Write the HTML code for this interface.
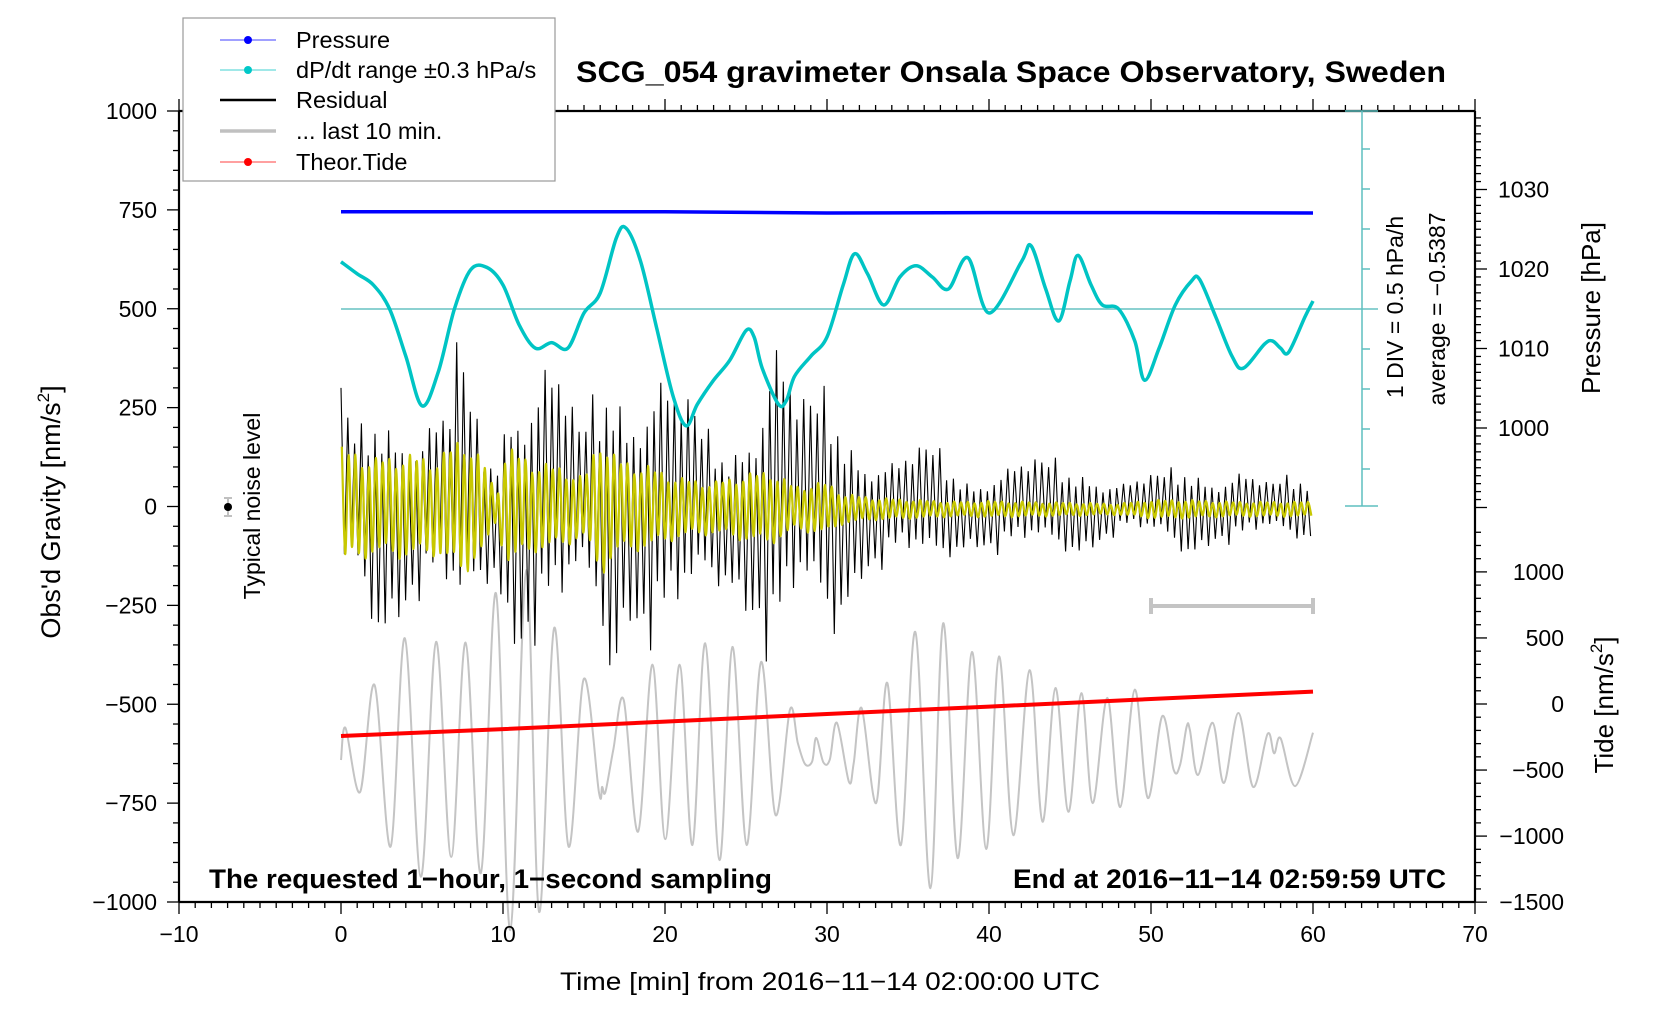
<!DOCTYPE html>
<html><head><meta charset="utf-8"><style>
html,body{margin:0;padding:0;background:#fff;}
svg{display:block;font-family:"Liberation Sans",sans-serif;}
</style></head><body>
<svg id="chart" width="1676" height="1020" viewBox="0 0 1676 1020" xmlns="http://www.w3.org/2000/svg">
<rect x="0" y="0" width="1676" height="1020" fill="#fff"/>
<g id="marks"></g>
<g id="axes"></g>
<text x="576" y="82" font-size="30" font-weight="bold" textLength="870" lengthAdjust="spacingAndGlyphs">SCG_054 gravimeter Onsala Space Observatory, Sweden</text>
<text x="209" y="888" font-size="27" font-weight="bold" textLength="563" lengthAdjust="spacingAndGlyphs">The requested 1−hour, 1−second sampling</text>
<text x="1013" y="888" font-size="27" font-weight="bold" textLength="433" lengthAdjust="spacingAndGlyphs">End at 2016−11−14 02:59:59 UTC</text>
<text x="830" y="990" font-size="25" text-anchor="middle" textLength="540" lengthAdjust="spacingAndGlyphs">Time [min] from 2016−11−14 02:00:00 UTC</text>
<text transform="translate(60,512) rotate(-90)" font-size="27" text-anchor="middle">Obs'd Gravity [nm/s<tspan font-size="17" dy="-11">2</tspan><tspan dy="11">]</tspan></text>
<text transform="translate(1600,308) rotate(-90)" font-size="26" text-anchor="middle">Pressure [hPa]</text>
<text transform="translate(1613,705) rotate(-90)" font-size="26" text-anchor="middle">Tide [nm/s<tspan font-size="17" dy="-11">2</tspan><tspan dy="11">]</tspan></text>
<text transform="translate(1403,307) rotate(-90)" font-size="23" text-anchor="middle">1 DIV = 0.5 hPa/h</text>
<text transform="translate(1445,309) rotate(-90)" font-size="23" text-anchor="middle">average = −0.5387</text>
<text transform="translate(260,506) rotate(-90)" font-size="23" text-anchor="middle">Typical noise level</text>
<g>
<line x1="228" y1="498" x2="228" y2="516" stroke="#c0c0c0" stroke-width="2"/>
<line x1="224" y1="498" x2="232" y2="498" stroke="#c0c0c0" stroke-width="2"/>
<line x1="224" y1="516" x2="232" y2="516" stroke="#c0c0c0" stroke-width="2"/>
<circle cx="228" cy="507" r="4" fill="#000"/>
</g>
<g>
<rect x="183" y="18" width="372" height="163" fill="#fff" stroke="#999" stroke-width="1.2"/>
<g><line x1="220" y1="40" x2="276" y2="40" stroke="#4040ff" stroke-width="1"/><circle cx="248" cy="40" r="4" fill="#0000ff"/><text x="296" y="48" font-size="23.5">Pressure</text></g>
<g><line x1="220" y1="70" x2="276" y2="70" stroke="#40d0d0" stroke-width="1"/><circle cx="248" cy="70" r="4" fill="#00c8c8"/><text x="296" y="78" font-size="23.5">dP/dt range ±0.3 hPa/s</text></g>
<g><line x1="220" y1="100" x2="276" y2="100" stroke="#000" stroke-width="2.5"/><text x="296" y="108" font-size="23.5">Residual</text></g>
<g><line x1="220" y1="131" x2="276" y2="131" stroke="#c0c0c0" stroke-width="3.5"/><text x="296" y="139" font-size="23.5">... last 10 min.</text></g>
<g><line x1="220" y1="162" x2="276" y2="162" stroke="#ff4040" stroke-width="1"/><circle cx="248" cy="162" r="4" fill="#ff0000"/><text x="296" y="170" font-size="23.5">Theor.Tide</text></g>
</g>
</svg>
<script>
// ---------- data ----------
const pressT = [0, 10, 20, 30, 40, 50, 60];
const pressV = [1027.2, 1027.2, 1027.2, 1027.05, 1027.1, 1027.1, 1027.05];
const dpdtT = [0,1,2,3,4,5,6,7,8,9,10,11,12,13,14,15,16,17,17.6,18.5,19.5,20.5,21.3,22,23,24,25,25.5,26,27,27.5,28,29,30,31,31.7,32.5,33.5,34.5,35.5,36.5,37.5,38.7,40,42,42.6,43.5,44.3,45,45.5,46.3,47,48,49,49.6,50.5,51.5,52.5,53,54,55,55.7,57,57.5,58,58.5,59.5,60];
const dpdtV = [0.59,0.44,0.30,0,-0.59,-1.21,-0.79,0,0.49,0.52,0.30,-0.20,-0.49,-0.42,-0.49,-0.05,0.20,0.89,1.01,0.59,-0.25,-1.09,-1.46,-1.19,-0.89,-0.64,-0.27,-0.35,-0.74,-1.19,-1.14,-0.84,-0.59,-0.35,0.30,0.69,0.44,0.05,0.40,0.54,0.40,0.25,0.64,-0.05,0.59,0.79,0.25,-0.15,0.35,0.67,0.30,0.05,0,-0.40,-0.89,-0.49,0.05,0.35,0.37,-0.10,-0.59,-0.74,-0.44,-0.40,-0.49,-0.54,-0.10,0.10];
const resT  = [0,1,2.3,3.3,4.6,5.7,6.8,7.2,8.6,9.5,10.4,11.2,12.7,13.4,14.8,16.2,16.6,17.7,19.3,20.3,21.8,22.4,24,25.8,26.6,28.3,30.4,31.2,32.3,34.3,36.4,38,39.1,40.8,43.4,45.6,47,48.4,50,51.3,52.3,54,55.5,57.3,59.3,60];
const resUp = [300,180,330,277,190,214,254,444,185,150,353,345,365,340,200,358,489,312,345,310,258,200,180,282,446,265,320,245,150,110,168,110,75,97,125,120,80,59,80,100,130,80,88,59,98,90];
const resLo = [-224,-200,-345,-290,-240,-236,-300,-375,-230,-180,-330,-375,-330,-360,-220,-320,-476,-280,-375,-390,-300,-228,-200,-316,-451,-280,-345,-255,-170,-152,-178,-120,-100,-127,-118,-121,-90,-67,-90,-110,-127,-90,-103,-80,-86,-80];
const resShape = [1,0.55,0.9,0.45,0.8,0.6,1,0.7,0.5,0.95,0.6,0.85,0.42,0.92,0.65,0.78,0.5];
const yelT = [0,2,4,6,7.5,9,9.6,10.2,12,13.5,15,16,17,19,21,23,25,26.5,28,30,31,33,38,40,45,48,50,52,55,60];
const yelA = [160,130,140,130,190,110,30,160,120,110,80,190,130,110,80,70,90,100,60,70,40,30,20,22,18,15,25,25,20,20];
const yelShape = [1,0.8,0.9,0.7,0.95,0.85,0.75,1,0.8,0.9];
const greyT = [0,0.28,1.18,2.07,3.06,3.94,4.93,5.87,6.8,7.69,8.63,9.56,10.45,11.44,12.23,13.16,14.05,14.99,15.92,16.12,16.32,16.81,17.45,18.34,19.23,20.02,20.9,21.69,22.48,23.37,24.16,25.04,25.93,26.82,27.71,28.2,28.64,29.08,29.33,29.78,30.17,30.61,31.35,31.65,32.14,33.03,33.72,34.56,35.45,36.38,37.17,38.06,38.95,39.83,40.62,41.5,42.5,43.3,44.1,44.9,45.7,46.4,47.3,48.1,49,49.8,50.7,51.4,51.8,52.2,52.4,52.9,53.8,54.5,55.4,56.3,57.2,57.6,58,58.9,60];
const greyV = [-641,-560,-722,-451,-860,-333,-936,-342,-886,-344,-927,-219,-1071,-161,-1025,-307,-860,-436,-722,-709,-722,-615,-489,-822,-400,-841,-400,-856,-346,-894,-355,-856,-393,-780,-514,-598,-651,-645,-585,-647,-640,-547,-696,-649,-510,-750,-446,-856,-317,-965,-295,-889,-368,-866,-379,-831,-414,-797,-459,-772,-472,-750,-484,-760,-463,-737,-530,-666,-652,-557,-565,-679,-547,-699,-522,-709,-575,-624,-586,-707,-572];
const tideT = [0, 10, 20, 30, 40, 50, 60];
const tideV = [-242, -190, -133, -76, -20, 38, 94];
const xTicks = [-10, 0, 10, 20, 30, 40, 50, 60, 70];
const xTickLabels = ["−10","0","10","20","30","40","50","60","70"];
const gTicks = [1000, 750, 500, 250, 0, -250, -500, -750, -1000];
const gTickLabels = ["1000","750","500","250","0","−250","−500","−750","−1000"];
const pTicks = [1030, 1020, 1010, 1000];
const pTickLabels = ["1030","1020","1010","1000"];
const tTicks = [1000, 500, 0, -500, -1000, -1500];
const tTickLabels = ["1000","500","0","−500","−1000","−1500"];

// ---------- scales ----------
const X = t => 341 + 16.2 * t;
const G = v => 506.5 - 0.3955 * v;
const P = p => 428 - 7.95 * (p - 1000);
const TD = v => 704 - 0.1321 * v;
const C = d => 309 - 80 * d;
const NS = "http://www.w3.org/2000/svg";
const marks = document.getElementById('marks');
const axes = document.getElementById('axes');
function mk(tag, parent, attrs) { const e = document.createElementNS(NS, tag); for (const k in attrs) e.setAttribute(k, attrs[k]); parent.appendChild(e); return e; }
function interp(ts, vs, t) {
  if (t <= ts[0]) return vs[0];
  for (let i = 1; i < ts.length; i++) if (t <= ts[i]) { const f = (t - ts[i-1]) / (ts[i] - ts[i-1]); return vs[i-1] + f * (vs[i] - vs[i-1]); }
  return vs[vs.length - 1];
}
function smoothPath(pts) {
  let d = 'M' + pts[0][0].toFixed(1) + ',' + pts[0][1].toFixed(1);
  for (let i = 0; i < pts.length - 1; i++) {
    const p0 = pts[Math.max(0, i-1)], p1 = pts[i], p2 = pts[i+1], p3 = pts[Math.min(pts.length-1, i+2)];
    const c1 = [p1[0] + (p2[0]-p0[0])/6, p1[1] + (p2[1]-p0[1])/6];
    const c2 = [p2[0] - (p3[0]-p1[0])/6, p2[1] - (p3[1]-p1[1])/6];
    d += 'C' + c1[0].toFixed(1) + ',' + c1[1].toFixed(1) + ' ' + c2[0].toFixed(1) + ',' + c2[1].toFixed(1) + ' ' + p2[0].toFixed(1) + ',' + p2[1].toFixed(1);
  }
  return d;
}

// grey last-10-min curve
const greyPts = greyT.map((t, i) => [X(t), G(greyV[i])]);
const grey = mk('path', marks, {d: smoothPath(greyPts), fill: 'none', stroke: '#c4c4c4', 'stroke-width': 2});



// residual (black)
let rp = [];
const half = 0.21;
for (let k = 0; k * half <= 60; k++) {
  const t = k * half;
  const m = resShape[k % resShape.length];
  const v = (k % 2 === 0) ? interp(resT, resUp, t) * m : interp(resT, resLo, t) * m;
  rp.push(X(t).toFixed(1) + ',' + G(v).toFixed(1));
}
const res = mk('polyline', marks, {points: rp.join(' '), fill: 'none', stroke: '#000', 'stroke-width': 1.1});



// yellow filtered residual
let yp = [];
for (let k = 0; k * half <= 60; k++) {
  const t = k * half + 0.05;
  if (t > 60) break;
  const a = interp(yelT, yelA, t) * yelShape[k % yelShape.length];
  const v = (k % 2 === 0) ? a : -a * 0.9;
  yp.push([X(t), G(v - 8)]);
}
const yel = mk('path', marks, {d: smoothPath(yp), fill: 'none', stroke: '#c8c800', 'stroke-width': 2.2});



// dP/dt center line
const cl = mk('line', marks, {x1: X(0), y1: C(0), x2: 1378, y2: C(0), stroke: '#66c2c2', 'stroke-width': 1.5});



// dP/dt cyan curve
const dpts = dpdtT.map((t, i) => [X(t), C(dpdtV[i])]);
const dp = mk('path', marks, {d: smoothPath(dpts), fill: 'none', stroke: '#00c4c4', 'stroke-width': 3.5});



// pressure
const pp = pressT.map((t, i) => X(t).toFixed(1) + ',' + P(pressV[i]).toFixed(1)).join(' ');
const pr = mk('polyline', marks, {points: pp, fill: 'none', stroke: '#0000ff', 'stroke-width': 3.5});



// tide
const tp = tideT.map((t, i) => X(t).toFixed(1) + ',' + TD(tideV[i]).toFixed(1)).join(' ');
const td = mk('polyline', marks, {points: tp, fill: 'none', stroke: '#ff0000', 'stroke-width': 4});



// last 10 min range bar
const bar = mk('g', marks, {stroke: '#c4c4c4', 'stroke-width': 4});


mk('line', bar, {x1: X(50), y1: 606, x2: X(60), y2: 606});
mk('line', bar, {x1: X(50), y1: 598, x2: X(50), y2: 614});
mk('line', bar, {x1: X(60), y1: 598, x2: X(60), y2: 614});

// ---------- axes ----------
const frame = mk('g', axes, {stroke: '#000', 'stroke-width': 2.2, fill: 'none'});


mk('line', frame, {x1: 179, y1: 111, x2: 1475, y2: 111});
mk('line', frame, {x1: 179, y1: 902, x2: 1475, y2: 902});
mk('line', frame, {x1: 179, y1: 111, x2: 179, y2: 902});
mk('line', frame, {x1: 1475, y1: 111, x2: 1475, y2: 902});

const tk = mk('g', axes, {stroke: '#000', 'stroke-width': 1.3});


for (let t = -10; t <= 70; t++) {
  const major = (t % 10 === 0);
  mk('line', tk, {x1: X(t), y1: 902, x2: X(t), y2: 902 + (major ? 12 : 6)});
  mk('line', tk, {x1: X(t), y1: 111, x2: X(t), y2: 111 - (major ? 12 : 6)});
}
for (let v = -1000; v <= 1000; v += 50) {
  const major = (v % 250 === 0);
  mk('line', tk, {x1: 179, y1: G(v), x2: 179 - (major ? 12 : 6), y2: G(v)});
}
for (let p = 990; p <= 1039; p++) {
  const major = (p % 10 === 0);
  mk('line', tk, {x1: 1475, y1: P(p), x2: 1475 + (major ? 12 : 6), y2: P(p)});
}
for (let v = -1500; v <= 1300; v += 100) {
  const major = (v % 500 === 0);
  mk('line', tk, {x1: 1475, y1: TD(v), x2: 1475 + (major ? 12 : 6), y2: TD(v)});
}

const lab = mk('g', axes, {'font-size': 23, fill: '#000'});


xTicks.forEach((t, i) => {
  const e = mk('text', lab, {x: X(t), y: 942, 'text-anchor': 'middle'});
  e.textContent = xTickLabels[i];
  
  
});
gTicks.forEach((v, i) => {
  const e = mk('text', lab, {x: 157, y: G(v) + 8, 'text-anchor': 'end'});
  e.textContent = gTickLabels[i];
  
  
});
pTicks.forEach((p, i) => {
  const e = mk('text', lab, {x: 1498, y: P(p) + 8});
  e.textContent = pTickLabels[i];
  
  
});
tTicks.forEach((v, i) => {
  const e = mk('text', lab, {x: 1564, y: TD(v) + 8, 'text-anchor': 'end'});
  e.textContent = tTickLabels[i];
  
  
});

// dP/dt scale axis
const ds = mk('g', axes, {stroke: '#5fbfbf', 'stroke-width': 1.5});


mk('line', ds, {x1: 1362, y1: 111, x2: 1362, y2: 506});
mk('line', ds, {x1: 1345, y1: 111, x2: 1378, y2: 111});
mk('line', ds, {x1: 1345, y1: 506, x2: 1378, y2: 506});
for (let d = -2.5; d <= 2.5; d += 0.5) {
  if (Math.abs(d) > 2.4 || Math.abs(d) < 0.01) continue;
  mk('line', ds, {x1: 1362, y1: C(d), x2: 1370, y2: C(d)});
}
</script>
</body></html>
